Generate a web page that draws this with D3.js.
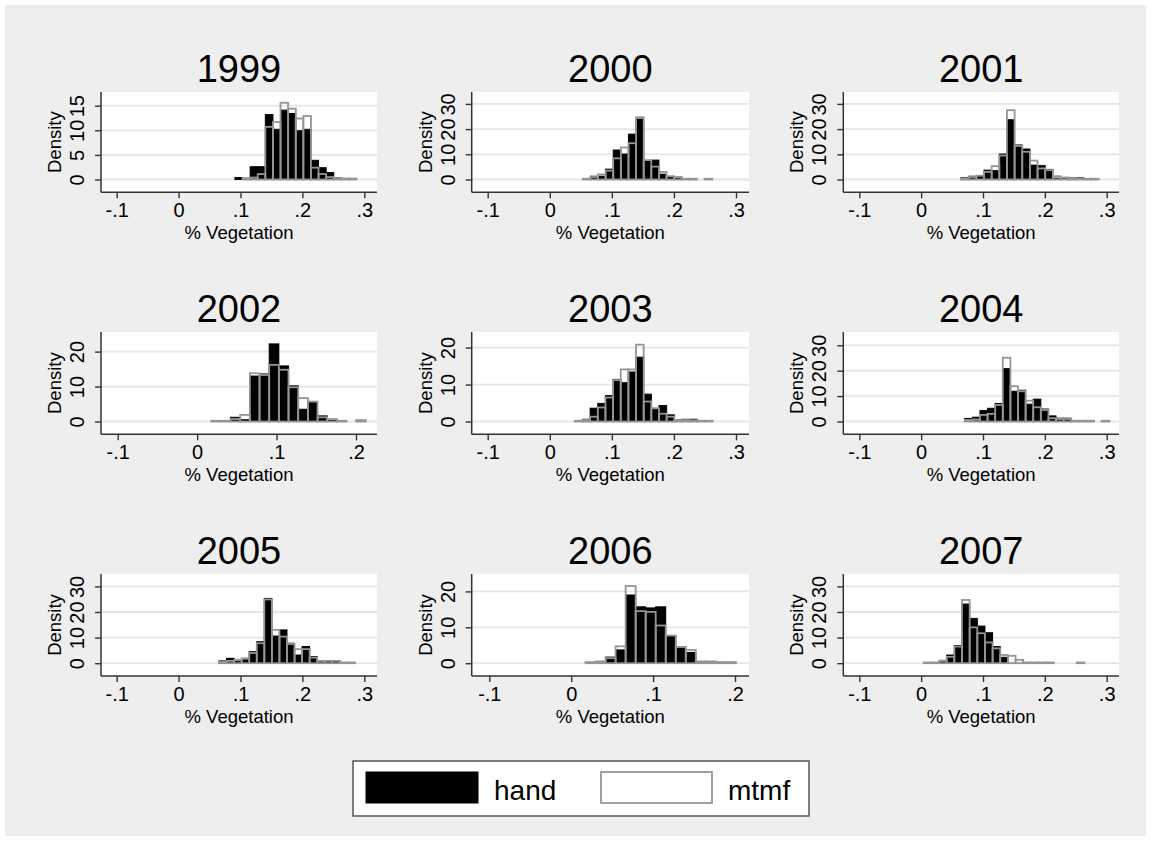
<!DOCTYPE html>
<html>
<head>
<meta charset="utf-8">
<script src="https://cdn.jsdelivr.net/npm/d3@7"></script>
<style>
  body { margin: 0; background: #ffffff; }
  svg { display: block; }
  text { font-family: "Liberation Sans", Arial, Helvetica, sans-serif; fill: #000; }
</style>
</head>
<body>
<svg id="chart" width="1151" height="841"></svg>
<script>
// ---- data: histogram densities of % vegetation, per year ----
const years = ["1999", "2000", "2001", "2002", "2003", "2004", "2005", "2006", "2007"];
const binStarts = [0.091, 0.0532, 0.0645, 0.0177, 0.0404, 0.0705, 0.0653, 0.0175, 0.0042];
const binWidths = [0.01228, 0.01226, 0.01237, 0.01217, 0.01232, 0.0123, 0.0122, 0.01224, 0.01237];

const hand1999 = [0.4, 0, 2.6, 2.6, 13.2, 10.2, 14.1, 13.4, 9.9, 10.2, 3.9, 2.4, 1.4, 0.4, 0, 0];
const mtmf1999 = [0, 0.3, 0.4, 1.1, 10.7, 11.7, 15.6, 14.4, 12.4, 12.9, 2.4, 1.1, 0.5, 0.3, 0.2, 0.2];
const hand2000 = [0, 1.3, 1.3, 4.1, 11.7, 10.1, 18, 24, 7.5, 7.7, 2.1, 1, 0.5, 0, 0, 0, 0];
const mtmf2000 = [0.3, 1.0, 2.0, 3.5, 8.4, 12.7, 14.4, 24.7, 7.7, 5.1, 3.0, 1.3, 1.0, 0.3, 0.3, 0, 0.3];
const hand2001 = [0.8, 1.3, 1.3, 3.7, 3.5, 10.1, 23.7, 13.7, 12.1, 5.7, 5.5, 4.0, 0.5, 0.8, 0.8, 0.8, 0, 0];
const mtmf2001 = [0.5, 1.0, 1.5, 3.0, 5.3, 9.5, 27.5, 13.3, 11.0, 7.5, 4.4, 3.7, 1.3, 0.8, 0.6, 0.5, 0.3, 0.3];
const hand2002 = [0, 0, 1.2, 0.5, 13, 13.6, 22.2, 15.9, 10.2, 3.5, 5.4, 1.6, 0.3, 0, 0, 0];
const mtmf2002 = [0.2, 0.2, 0.7, 1.9, 13.8, 13.3, 16.2, 14.8, 9.8, 6.7, 5.7, 1.2, 0.7, 0.2, 0, 0.4];
const hand2003 = [0, 0.6, 3.6, 4.9, 7, 11.4, 10.5, 13.4, 17.4, 7.4, 3.3, 4.3, 1.8, 0.4, 0.6, 0.6, 0, 0];
const mtmf2003 = [0.2, 0.4, 1.3, 3.8, 6.5, 11.2, 14.1, 14.1, 20.8, 5.4, 3.6, 2.1, 1.3, 0.4, 0.4, 0.3, 0.2, 0.2];
const hand2004 = [1.2, 1.7, 4.3, 5.2, 7.1, 20.8, 11.9, 12.3, 6.8, 8.8, 4.9, 2.2, 1.3, 1.3, 0, 0, 0, 0, 0];
const mtmf2004 = [0.6, 0.8, 2.6, 3.0, 6.5, 25.1, 13.9, 11.9, 8.2, 5.6, 4.5, 1.3, 1.0, 1.0, 0.3, 0.3, 0.3, 0, 0.3];
const hand2005 = [0.9, 1.9, 0.8, 1.3, 4.5, 8.4, 25.3, 10.6, 13, 7.8, 3.2, 6.5, 2.6, 0.5, 0.9, 0.9, 0, 0];
const mtmf2005 = [0.5, 0.9, 1.3, 1.9, 4.0, 7.8, 24.9, 13.0, 10.4, 7.5, 5.5, 5.5, 2.2, 0.9, 0.9, 0.9, 0.3, 0.3];
const hand2006 = [0, 0, 1.7, 3.7, 19, 15.7, 15.4, 15.7, 7.7, 4.5, 3, 0, 0, 0, 0];
const mtmf2006 = [0.3, 0.5, 1.4, 4.7, 21.5, 14.5, 14.3, 10.5, 7.7, 4.5, 3.7, 0.5, 0.5, 0.3, 0.3];
const hand2007 = [0, 0, 0.5, 3.2, 6.9, 23.1, 17.5, 14.5, 11.9, 6.5, 2.3, 0, 0, 0, 0, 0, 0, 0, 0, 0, 0];
const mtmf2007 = [0.3, 0.3, 1.0, 2.5, 6.5, 24.7, 14, 11.7, 8.1, 5.8, 3.2, 2.9, 1.3, 0.3, 0.3, 0.3, 0.3, 0, 0, 0, 0.3];

const handSeries = [hand1999, hand2000, hand2001, hand2002, hand2003, hand2004, hand2005, hand2006, hand2007];
const mtmfSeries = [mtmf1999, mtmf2000, mtmf2001, mtmf2002, mtmf2003, mtmf2004, mtmf2005, mtmf2006, mtmf2007];

// tick labels
const xTicksWide = [-0.1, 0, 0.1, 0.2, 0.3];
const xTicksNarrow = [-0.1, 0, 0.1, 0.2];
const yTicks15 = [0, 5, 10, 15];
const yTicks20 = [0, 10, 20];
const yTicks30 = [0, 10, 20, 30];
const xTicksByPanel = [xTicksWide, xTicksWide, xTicksWide, xTicksNarrow, xTicksWide, xTicksWide, xTicksWide, xTicksNarrow, xTicksWide];
const yTicksByPanel = [yTicks15, yTicks30, yTicks30, yTicks20, yTicks20, yTicks30, yTicks30, yTicks20, yTicks30];

const seriesNames = ["hand", "mtmf"];
const xTitle = "% Vegetation";
const yTitle = "Density";

// ---- layout ----
const W = 1151, H = 841;
const colLeft = [101, 471.7, 843.3];
const colRight = [377, 749, 1119];
const rowTop = [92, 332, 574];
const rowBottom = [192.3, 434.3, 676];
// inset of first / last x tick from plot edges, and of top y tick from plot top
const xInset = [[15.7, 12.7], [16, 13], [16, 12.3], [16.7, 21], [16, 13], [16, 12.3], [15.7, 12.7], [17.6, 14], [16, 12.3]];
const yTopInset = [13.7, 11.9, 11.9, 19.6, 15.6, 13.3, 12.4, 17.4, 12.4];
const zeroInset = 12.8;

const fmtX = d => d === 0 ? "0" : (d < 0 ? "-" : "") + "." + Math.round(Math.abs(d) * 10);

const svg = d3.select("#chart");
svg.append("rect").attr("width", W).attr("height", H).attr("fill", "#ffffff");
svg.append("rect").attr("x", 5).attr("y", 5).attr("width", W - 10).attr("height", H - 10).attr("fill", "#eeeeee");

years.forEach((yr, i) => {
  const c = i % 3, r = Math.floor(i / 3);
  const L = colLeft[c], R = colRight[c], T = rowTop[r], B = rowBottom[r];
  const xt = xTicksByPanel[i], yt = yTicksByPanel[i];
  const x = d3.scaleLinear().domain([xt[0], xt[xt.length - 1]]).range([L + xInset[i][0], R - xInset[i][1]]);
  const y = d3.scaleLinear().domain([0, yt[yt.length - 1]]).range([B - zeroInset, T + yTopInset[i]]);

  const g = svg.append("g");
  g.append("rect").attr("x", L).attr("y", T).attr("width", R - L).attr("height", B - T).attr("fill", "#ffffff");

  // horizontal grid
  g.selectAll("line.grid").data(yt).join("line")
    .attr("x1", L).attr("x2", R).attr("y1", d => y(d)).attr("y2", d => y(d))
    .attr("stroke", "#e6e6e6").attr("stroke-width", 1.8);

  const bins = (vals) => vals.map((v, k) => ({
    x0: binStarts[i] + k * binWidths[i],
    x1: binStarts[i] + (k + 1) * binWidths[i],
    v
  })).filter(d => d.v > 0);

  g.selectAll("rect.hand").data(bins(handSeries[i])).join("rect")
    .attr("x", d => x(d.x0)).attr("width", d => x(d.x1) - x(d.x0))
    .attr("y", d => y(d.v)).attr("height", d => y(0) - y(d.v))
    .attr("fill", "#000").attr("stroke", "#000").attr("stroke-width", 1);

  g.selectAll("rect.mtmf").data(bins(mtmfSeries[i])).join("rect")
    .attr("x", d => x(d.x0)).attr("width", d => x(d.x1) - x(d.x0))
    .attr("y", d => y(d.v)).attr("height", d => y(0) - y(d.v))
    .attr("fill", "none").attr("stroke", "#959595").attr("stroke-width", 1.8);

  // axes
  const xAxis = g.append("g").attr("transform", `translate(0,${B})`)
    .call(d3.axisBottom(x).tickValues(xt).tickFormat(fmtX).tickSize(6).tickSizeOuter(0));
  xAxis.select(".domain").remove();
  xAxis.selectAll(".tick line").attr("stroke", "#333").attr("stroke-width", 1.4);
  xAxis.selectAll(".tick text").attr("font-size", 20).attr("dy", null).attr("y", 25)
    .attr("font-family", "Liberation Sans, Arial, sans-serif").attr("fill", "#000");

  const yAxis = g.append("g").attr("transform", `translate(${L},0)`)
    .call(d3.axisLeft(y).tickValues(yt).tickSize(6).tickSizeOuter(0));
  yAxis.select(".domain").remove();
  yAxis.selectAll(".tick line").attr("stroke", "#333").attr("stroke-width", 1.4);
  yAxis.selectAll(".tick text")
    .attr("font-size", 20).attr("x", null).attr("dy", null)
    .attr("text-anchor", "middle")
    .attr("transform", "translate(-17,0) rotate(-90)")
    .attr("font-family", "Liberation Sans, Arial, sans-serif").attr("fill", "#000");

  g.append("line").attr("x1", L).attr("x2", R).attr("y1", B).attr("y2", B)
    .attr("stroke", "#333").attr("stroke-width", 1.5);
  g.append("line").attr("x1", L).attr("x2", L).attr("y1", T).attr("y2", B)
    .attr("stroke", "#333").attr("stroke-width", 1.5);

  g.append("text").attr("x", (L + R) / 2).attr("y", B + 47).attr("text-anchor", "middle")
    .attr("font-size", 18.5).text(xTitle);
  g.append("text").attr("transform", `translate(${L - 40},${(T + B) / 2}) rotate(-90)`)
    .attr("text-anchor", "middle").attr("font-size", 18.5).text(yTitle);

  g.append("text").attr("x", (L + R) / 2).attr("y", T - 10).attr("text-anchor", "middle")
    .attr("font-size", 38).text(yr);
});

// legend
const lg = svg.append("g");
lg.append("rect").attr("x", 353).attr("y", 761).attr("width", 456).attr("height", 55)
  .attr("fill", "#fff").attr("stroke", "#555").attr("stroke-width", 1.5);
lg.append("rect").attr("x", 366).attr("y", 772).attr("width", 112).attr("height", 31)
  .attr("fill", "#000").attr("stroke", "#000").attr("stroke-width", 1);
lg.append("text").attr("x", 494).attr("y", 800).attr("font-size", 28).text(seriesNames[0]);
lg.append("rect").attr("x", 601).attr("y", 772).attr("width", 111).attr("height", 31)
  .attr("fill", "#fff").attr("stroke", "#a0a0a0").attr("stroke-width", 2);
lg.append("text").attr("x", 728).attr("y", 800).attr("font-size", 28).text(seriesNames[1]);
</script>
</body>
</html>
